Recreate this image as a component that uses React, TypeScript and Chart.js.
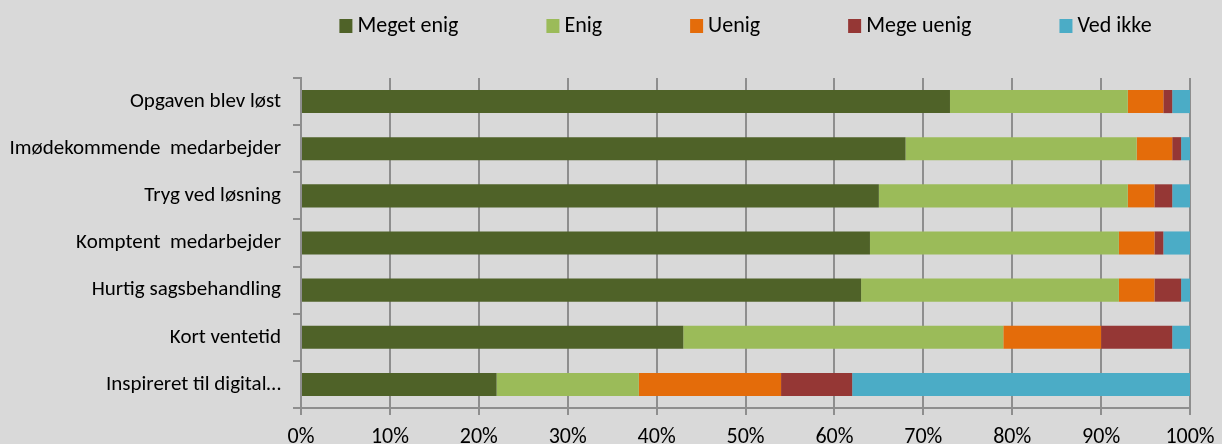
import React, { useEffect, useRef } from 'react';
import { Chart, registerables } from 'chart.js';

Chart.register(...registerables);

const FONT = 'Carlito, Lato, "Open Sans", sans-serif';

const categories = [
  'Opgaven blev løst',
  'Imødekommende  medarbejder',
  'Tryg ved løsning',
  'Komptent  medarbejder',
  'Hurtig sagsbehandling',
  'Kort ventetid',
  'Inspireret til digital…',
];

const seriesNames = ['Meget enig', 'Enig', 'Uenig', 'Mege uenig', 'Ved ikke'];
const seriesColors = ['#4f6228', '#9bbb59', '#e46c0a', '#953735', '#4bacc6'];

const megetEnig = [73, 68, 65, 64, 63, 43, 22];
const enig = [20, 26, 28, 28, 29, 36, 16];
const uenig = [4, 4, 3, 4, 4, 11, 16];
const megeUenig = [1, 1, 2, 1, 3, 8, 8];
const vedIkke = [2, 1, 2, 3, 1, 2, 38];

const seriesValues = [megetEnig, enig, uenig, megeUenig, vedIkke];

const xTickValues = [0, 10, 20, 30, 40, 50, 60, 70, 80, 90, 100];

const legendPlugin = {
  id: 'customLegend',
  afterDraw(chart: any) {
    const ctx = chart.ctx;
    ctx.save();
    ctx.font = `22px ${FONT}`;
    const box = 13;
    const gapText = 5;
    const gapItem = 88;
    const items = chart.data.datasets.map((d: any) => ({
      text: d.label,
      color: d.backgroundColor,
      w: box + gapText + ctx.measureText(d.label).width,
    }));
    const total = items.reduce((s: number, i: any) => s + i.w, 0) + gapItem * (items.length - 1);
    const ca = chart.chartArea;
    let x = (ca.left + ca.right) / 2 - total / 2;
    const y = 26;
    ctx.textBaseline = 'middle';
    ctx.textAlign = 'left';
    items.forEach((it: any) => {
      ctx.fillStyle = it.color;
      ctx.fillRect(x, y - 7, box, box + 1);
      ctx.fillStyle = '#000';
      ctx.fillText(it.text, x + box + gapText, y);
      x += it.w + gapItem;
    });
    ctx.restore();
  },
};

export default function App() {
  const ref = useRef<HTMLCanvasElement>(null);

  useEffect(() => {
    if (!ref.current) return;
    Chart.defaults.font.family = FONT;
    Chart.defaults.font.size = 21;
    Chart.defaults.color = '#000';
    const chart = new Chart(ref.current, {
      type: 'bar',
      data: {
        labels: categories,
        datasets: seriesNames.map((name, i) => ({
          label: name,
          data: seriesValues[i],
          backgroundColor: seriesColors[i],
          borderWidth: 0,
          barPercentage: 0.49,
          categoryPercentage: 1,
        })),
      },
      options: {
        indexAxis: 'y',
        animation: false,
        responsive: true,
        maintainAspectRatio: false,
        layout: { padding: { top: 78, right: 32, bottom: 0, left: 0 } },
        plugins: {
          legend: { display: false },
          tooltip: { enabled: false },
        },
        scales: {
          x: {
            stacked: true,
            min: 0,
            max: 100,
            afterBuildTicks: (scale: any) => {
              scale.ticks = xTickValues.map((v) => ({ value: v }));
            },
            afterFit: (scale: any) => {
              scale.height = 36;
              scale.paddingLeft = 0;
              scale.paddingRight = 0;
            },
            ticks: {
              callback: (v: any) => v + '%',
              padding: 9,
              maxRotation: 0,
              autoSkip: false,
              font: { size: 22 },
            },
            grid: {
              color: '#8e8e8e',
              lineWidth: 2,
              tickLength: 7,
            },
            border: { display: true, color: '#8e8e8e', width: 2 },
          },
          y: {
            stacked: true,
            afterFit: (scale: any) => {
              scale.width = 301;
              scale.paddingTop = 0;
              scale.paddingBottom = 0;
            },
            ticks: { padding: 12, autoSkip: false, font: { size: 21 } },
            grid: {
              drawOnChartArea: false,
              offset: true,
              tickLength: 8,
              color: '#8e8e8e',
              lineWidth: 2,
            },
            border: { display: true, color: '#8e8e8e', width: 2 },
          },
        },
      },
      plugins: [legendPlugin],
    });
    return () => chart.destroy();
  }, []);

  return (
    <div
      style={{
        position: 'fixed',
        left: 0,
        top: 0,
        width: 1222,
        height: 444,
        background: '#d9d9d9',
      }}
    >
      <canvas ref={ref} />
    </div>
  );
}
